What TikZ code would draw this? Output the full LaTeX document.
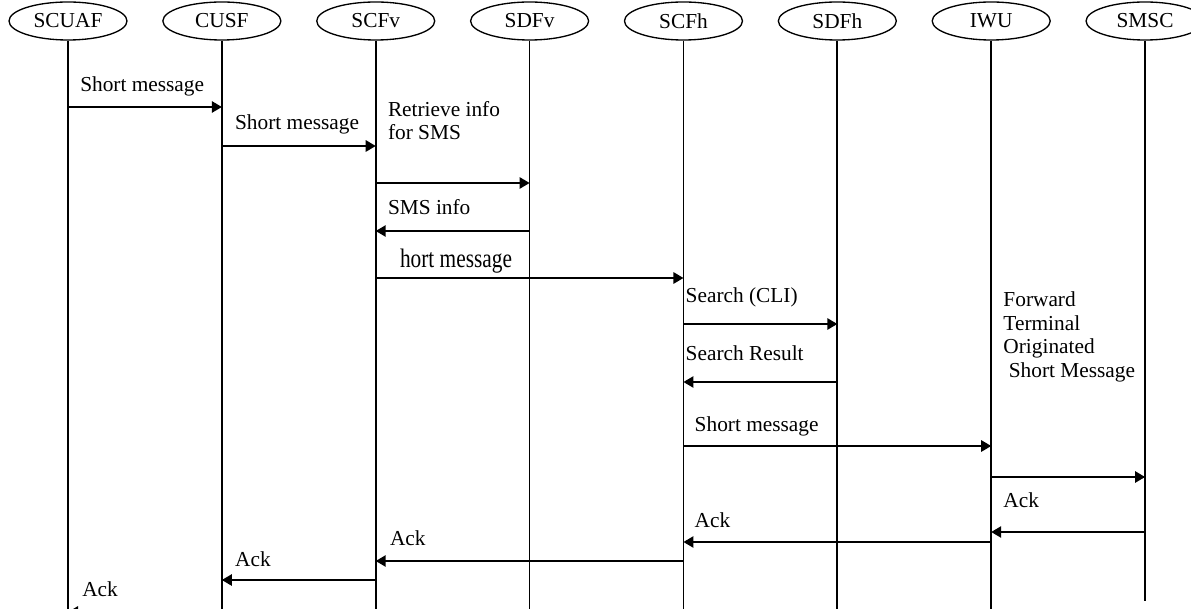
\documentclass[tikz,border=0pt]{standalone}
\usepackage{fontspec}
\setmainfont{Liberation Serif}
\usetikzlibrary{positioning,arrows.meta,calc,shapes.geometric}
\tikzset{
	>={Triangle[length=7.5pt,width=8.5pt]}, % filled arrow heads
	node distance=25.9pt, % gap between two neighbouring entities
	entity/.style={ellipse, draw, line width=1pt, minimum width=88.5pt, minimum height=28.5pt, inner sep=0pt, font=\fontsize{16}{18}\selectfont}, % the boxes on top
	life/.style={line width=1.3pt}, % vertical time lines
	msg/.style={->, line width=1.3pt}, % the messages
	lbl/.style={anchor=base west, inner sep=0pt, align=left, font=\fontsize{16}{17.5}\selectfont}, % text over a message
}

\begin{document}
\begin{tikzpicture}[x=0.75pt,y=-0.75pt]
	\useasboundingbox (0,0) rectangle (1191,609);
	%Nodes
	\node[entity] (scuaf) at (68,21) {SCUAF};
	\node[entity] (cusf) [right=of scuaf] {CUSF};
	\node[entity] (scfv) [right=of cusf] {SCFv};
	\node[entity] (sdfv) [right=of scfv] {SDFv};
	\node[entity] (scfh) [right=of sdfv] {SCFh};
	\node[entity] (sdfh) [right=of scfh] {SDFh};
	\node[entity] (iwu) [right=of sdfh] {IWU};
	\node[entity] (smsc) [right=of iwu] {SMSC};

	\coordinate (bottom) at (0,612);
	\coordinate (smscend) at (0,601);

	% rows of the messages
	\coordinate (r1) at (0,107);
	\coordinate (r2) at (0,146);
	\coordinate (r3) at (0,183);
	\coordinate (r4) at (0,231);
	\coordinate (r5) at (0,278);
	\coordinate (r6) at (0,324);
	\coordinate (r7) at (0,382);
	\coordinate (r8) at (0,446);
	\coordinate (r9) at (0,477);
	\coordinate (r10) at (0,532);
	\coordinate (r11) at (0,542);
	\coordinate (r12) at (0,561);
	\coordinate (r13) at (0,580);
	\coordinate (r14) at (0,612);

	%Lines
	\foreach \e in {scuaf,cusf,scfv,sdfv,scfh,sdfh,iwu}
		\draw[life] (\e) -- (\e |- bottom);
	\draw[life] (smsc) -- (smsc |- smscend);

	\draw[msg] (scuaf |- r1) -- (cusf |- r1);
	\draw[msg] (cusf |- r2) -- (scfv |- r2);
	\draw[msg] (scfv |- r3) -- (sdfv |- r3);
	\draw[msg] (sdfv |- r4) -- (scfv |- r4);
	\draw[msg] (scfv |- r5) -- (scfh |- r5);
	\draw[msg] (scfh |- r6) -- (sdfh |- r6);
	\draw[msg] (sdfh |- r7) -- (scfh |- r7);
	\draw[msg] (scfh |- r8) -- (iwu |- r8);
	\draw[msg] (iwu |- r9) -- (smsc |- r9);
	\draw[msg] (smsc |- r10) -- (iwu |- r10);
	\draw[msg] (iwu |- r11) -- (scfh |- r11);
	\draw[msg] (scfh |- r12) -- (scfv |- r12);
	\draw[msg] (scfv |- r13) -- (cusf |- r13);
	\draw[msg] (cusf |- r14) -- (scuaf |- r14);

	%Labels
	\node[lbl] (t1) at ($(scuaf |- r1)+(12,-15)$) {Short message};
	\node[lbl] (t2) at ($(cusf |- r2)+(13,-16)$) {Short message};
	\node[lbl] (t3) at ($(scfv |- r3)+(12,-43)$) {Retrieve info\\for SMS};
	\node[lbl] (t4) at ($(scfv |- r4)+(12,-16)$) {SMS info};
	\node[lbl] (t5) at ($(scfv |- r5)+(24,-10)$) {\scalebox{0.8}[1]{\fontsize{20}{20}\selectfont hort message}};
	\node[lbl] (t6) at ($(scfh |- r6)+(2,-21)$) {Search (CLI)};
	\node[lbl] (t7) at ($(scfh |- r7)+(2,-22)$) {Search Result};
	\node[lbl] (t8) at ($(scfh |- r8)+(11,-15)$) {Short message};
	\node[lbl] (t9) at ($(iwu |- r9)+(12,-100)$) {Forward\\Terminal\\Originated\\\hspace{4pt}Short Message};
	\node[lbl] (t10) at ($(iwu |- r10)+(12,-25)$) {Ack};
	\node[lbl] (t11) at ($(scfh |- r11)+(11,-15)$) {Ack};
	\node[lbl] (t12) at ($(scfv |- r12)+(14,-16)$) {Ack};
	\node[lbl] (t13) at ($(cusf |- r13)+(13,-14)$) {Ack};
	\node[lbl] (t14) at ($(scuaf |- r14)+(14,-16)$) {Ack};
\end{tikzpicture}
\end{document}
